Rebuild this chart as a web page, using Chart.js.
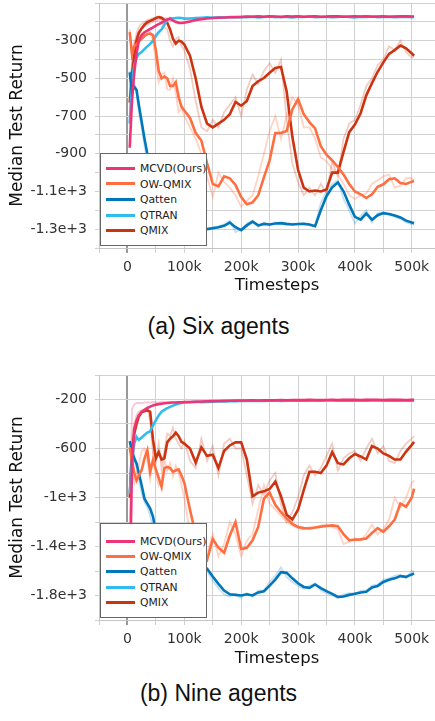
<!DOCTYPE html>
<html>
<head>
<meta charset="utf-8">
<script src="https://cdn.jsdelivr.net/npm/chart.js@4.4.1/dist/chart.umd.min.js"></script>
<style>
html, body { margin: 0; padding: 0; background: #fff; overflow: hidden; width: 435px; height: 721px; }
canvas { position: absolute; left: 0; }
#chartA { top: 0; }
#chartB { top: 372px; }
.legend { position: absolute; left: 100px; width: 105px; background: #fff; border: 1px solid #666;
  font-family: 'DejaVu Sans'; font-size: 10.8px; color: #222; }
.legend .row { position: absolute; left: 5px; height: 15px; line-height: 15px; white-space: nowrap; }
.legend .row i { display: inline-block; width: 29px; height: 3px; vertical-align: middle; margin-right: 5px; position: relative; top: -1px; }
.cap { position: absolute; left: 0; width: 437px; text-align: center; font-family: 'Liberation Sans';
  font-size: 23px; line-height: 26px; color: #111; }
</style>
</head>
<body>
<canvas id="chartA" width="460" height="296"></canvas>
<canvas id="chartB" width="460" height="297"></canvas>
<div class="legend" id="legA" style="top:153px;height:91px"></div>
<div class="legend" id="legB" style="top:523px;height:93px"></div>
<div class="cap" style="top:313px">(a) Six agents</div>
<div class="cap" style="top:680px">(b) Nine agents</div>
<script>
// timesteps, in thousands
const STEPS_K = [4,8,12,16,20,25,30,35,40,45,50,55,60,65,70,75,80,85,90,95,
  100,110,120,130,140,150,160,170,180,190,
  200,210,220,230,240,250,260,270,280,290,
  300,310,320,330,340,350,360,370,380,390,
  400,410,420,430,440,450,460,470,480,490,
  500,504];

const NAMES = ['MCVD(Ours)', 'OW-QMIX', 'Qatten', 'QTRAN', 'QMIX'];
const X_GRID = [-50000,0,50000,100000,150000,200000,250000,300000,350000,400000,450000,500000,550000];
const X_LABELS = [0, 100000, 200000, 300000, 400000, 500000];
const Y_LABELS_A = [-300, -500, -700, -900, -1100, -1300];
const Y_LABELS_B = [-200, -600, -1000, -1400, -1800];

// (a) Six agents - smoothed runs
const A_MCVD = [
  -868,-620,-470,-370,-300,-270,-255,-246,-238,-230,-220,-212,-205,-195,-187,-185,-192,-200,-205,-206,
  -205,-198,-190,-186,-182,-180,-178,-177,-176,-175,
  -174,-172,-173,-171,-173,-170,-172,-174,-171,-172,
  -170,-173,-172,-171,-173,-172,-170,-171,-173,-172,
  -171,-172,-170,-173,-172,-171,-173,-172,-171,-170,
  -172,-172];
const A_OW = [
  -255,-370,-330,-320,-305,-290,-275,-265,-262,-270,-350,-460,-500,-490,-500,-540,-540,-520,-600,-650,
  -670,-710,-790,-830,-950,-1060,-1073,-1020,-1030,-1065,
  -1130,-1168,-1158,-1120,-1025,-935,-790,-790,-779,-665,
  -610,-690,-732,-765,-860,-905,-935,-970,-1010,-1060,
  -1100,-1115,-1135,-1115,-1075,-1062,-1035,-1030,-1055,-1060,
  -1048,-1045];
const A_QATTEN = [
  -468,-575,-545,-560,-640,-730,-820,-900,-980,-1040,-1090,-1130,-1170,-1200,-1220,-1240,-1255,-1265,-1275,-1280,
  -1285,-1292,-1298,-1300,-1300,-1295,-1290,-1282,-1265,-1290,
  -1305,-1280,-1260,-1280,-1272,-1275,-1270,-1268,-1272,-1275,
  -1273,-1272,-1275,-1284,-1200,-1125,-1078,-1052,-1099,-1170,
  -1235,-1250,-1217,-1250,-1226,-1215,-1220,-1228,-1238,-1255,
  -1265,-1268];
const A_QTRAN = [
  -740,-520,-430,-390,-370,-360,-345,-330,-317,-300,-275,-255,-240,-215,-190,-180,-182,-180,-178,-180,
  -183,-182,-180,-178,-176,-178,-176,-177,-175,-176,
  -174,-175,-173,-176,-174,-172,-175,-173,-174,-176,
  -173,-174,-172,-175,-174,-173,-175,-174,-172,-174,
  -176,-173,-174,-172,-175,-174,-173,-175,-174,-173,
  -175,-174];
const A_QMIX = [
  -628,-480,-380,-300,-260,-235,-215,-202,-195,-188,-180,-175,-178,-190,-205,-240,-290,-316,-300,-305,
  -320,-380,-500,-650,-740,-760,-740,-720,-690,-625,
  -645,-620,-540,-515,-498,-470,-445,-440,-570,-810,
  -985,-1080,-1100,-1095,-1100,-1090,-1000,-1000,-890,-785,
  -745,-685,-590,-525,-465,-415,-370,-350,-326,-340,
  -368,-380];

// (a) raw runs (faint lines)
const A_MCVD_RAW = [
  -700,-420,-330,-280,-250,-235,-225,-215,-205,-200,-195,-190,-185,-180,-182,-186,-195,-205,-210,-205,
  -200,-192,-186,-182,-180,-178,-177,-176,-175,-174,
  -173,-171,-173,-170,-174,-169,-172,-175,-170,-172,
  -169,-174,-171,-170,-174,-171,-169,-170,-174,-172,
  -170,-173,-169,-174,-171,-170,-174,-171,-170,-169,
  -173,-171];
const A_OW_RAW = [
  -240,-400,-300,-310,-290,-280,-260,-250,-255,-300,-420,-520,-480,-470,-560,-560,-500,-580,-680,-660,
  -700,-760,-820,-900,-1020,-1130,-1000,-1050,-1080,-1120,
  -1180,-1150,-1120,-1020,-900,-780,-700,-820,-700,-600,
  -640,-760,-760,-820,-920,-940,-980,-1010,-1060,-1120,
  -1140,-1120,-1110,-1060,-1040,-1020,-1010,-1080,-1070,-1030,
  -1030,-1040];
const A_QATTEN_RAW = [
  -460,-600,-520,-580,-680,-760,-860,-940,-1020,-1070,-1110,-1160,-1190,-1220,-1240,-1250,-1265,-1275,-1280,-1290,
  -1290,-1300,-1305,-1300,-1300,-1290,-1285,-1275,-1255,-1315,
  -1300,-1270,-1255,-1290,-1265,-1280,-1265,-1270,-1278,-1270,
  -1275,-1268,-1280,-1280,-1160,-1100,-1060,-1040,-1140,-1200,
  -1270,-1230,-1200,-1265,-1215,-1210,-1225,-1235,-1245,-1265,
  -1275,-1275];
const A_QMIX_RAW = [
  -600,-420,-330,-260,-230,-210,-200,-190,-185,-180,-175,-172,-190,-230,-240,-300,-330,-290,-280,-330,
  -350,-450,-620,-760,-780,-720,-760,-680,-640,-600,
  -700,-560,-480,-530,-460,-420,-470,-400,-720,-950,
  -1050,-1120,-1080,-1120,-1060,-1110,-940,-1020,-820,-740,
  -720,-640,-540,-500,-430,-400,-330,-350,-300,-360,
  -390,-385];

// (b) Nine agents - smoothed runs
const B_MCVD = [
  -1750,-750,-440,-370,-330,-300,-285,-270,-258,-248,-242,-238,-234,-230,-228,-226,-225,-224,-222,-222,
  -221,-220,-218,-216,-214,-213,-212,-211,-210,-209,
  -208,-208,-207,-208,-206,-207,-206,-205,-206,-205,
  -204,-205,-203,-204,-205,-204,-203,-204,-203,-202,
  -203,-204,-203,-202,-203,-204,-203,-202,-203,-204,
  -203,-203];
const B_OW = [
  -590,-700,-800,-860,-820,-777,-680,-614,-790,-695,-770,-840,-913,-760,-750,-760,-790,-780,-770,-820,
  -880,-1100,-1300,-1460,-1510,-1340,-1410,-1450,-1310,-1200,
  -1420,-1410,-1350,-1240,-1010,-960,-1060,-1120,-1170,-1215,
  -1240,-1250,-1253,-1245,-1238,-1232,-1228,-1235,-1300,-1349,
  -1345,-1342,-1335,-1290,-1250,-1280,-1235,-1180,-1050,-1075,
  -1000,-927];
const B_QATTEN = [
  -540,-620,-680,-722,-800,-900,-1010,-1050,-1090,-1158,-1280,-1350,-1400,-1440,-1470,-1490,-1500,-1510,-1520,-1530,
  -1535,-1545,-1555,-1565,-1580,-1645,-1705,-1760,-1790,-1795,
  -1800,-1790,-1800,-1775,-1765,-1720,-1670,-1610,-1615,-1660,
  -1700,-1730,-1738,-1710,-1740,-1765,-1787,-1812,-1808,-1795,
  -1785,-1775,-1770,-1735,-1722,-1690,-1672,-1660,-1642,-1648,
  -1628,-1621];
const B_QTRAN = [
  -970,-700,-560,-505,-530,-510,-490,-470,-460,-410,-370,-330,-300,-285,-270,-260,-250,-240,-232,-228,
  -225,-222,-218,-222,-220,-218,-215,-216,-213,-214,
  -212,-211,-212,-210,-211,-209,-210,-211,-209,-208,
  -210,-209,-208,-210,-209,-208,-207,-209,-208,-210,
  -209,-208,-209,-207,-208,-210,-209,-208,-209,-210,
  -208,-209];
const B_QMIX = [
  -1000,-620,-480,-400,-340,-305,-295,-288,-300,-530,-680,-630,-690,-680,-550,-520,-500,-470,-500,-546,
  -560,-600,-715,-590,-660,-650,-760,-620,-575,-550,
  -550,-690,-990,-960,-950,-930,-870,-990,-1140,-1180,
  -1100,-940,-790,-790,-800,-740,-630,-720,-730,-680,
  -645,-665,-690,-580,-600,-640,-660,-690,-690,-625,
  -570,-546];

// (b) raw runs (faint lines)
const B_MCVD_RAW = [
  -1200,-280,-240,-230,-228,-230,-225,-222,-225,-220,-222,-225,-218,-220,-222,-218,-220,-221,-218,-220,
  -220,-218,-216,-215,-213,-212,-211,-210,-209,-208,
  -208,-207,-206,-208,-205,-206,-205,-204,-206,-204,
  -203,-205,-202,-204,-204,-203,-202,-204,-202,-201,
  -203,-203,-202,-201,-203,-203,-202,-201,-203,-203,
  -202,-202];
const B_OW_RAW = [
  -580,-760,-880,-800,-740,-620,-600,-700,-850,-650,-820,-900,-860,-700,-780,-720,-830,-740,-800,-900,
  -1000,-1300,-1500,-1520,-1460,-1300,-1480,-1380,-1200,-1300,
  -1480,-1350,-1300,-1100,-900,-1050,-1100,-1150,-1200,-1230,
  -1250,-1260,-1240,-1250,-1230,-1220,-1240,-1260,-1380,-1360,
  -1330,-1350,-1300,-1220,-1300,-1260,-1180,-1000,-1080,-1000,
  -880,-860];
const B_QATTEN_RAW = [
  -560,-660,-700,-760,-860,-960,-1040,-1080,-1150,-1250,-1330,-1400,-1430,-1470,-1490,-1500,-1510,-1520,-1530,-1540,
  -1540,-1550,-1560,-1575,-1600,-1680,-1740,-1790,-1810,-1790,
  -1820,-1780,-1810,-1760,-1760,-1690,-1640,-1570,-1650,-1690,
  -1720,-1745,-1720,-1700,-1760,-1780,-1800,-1820,-1790,-1780,
  -1790,-1760,-1760,-1720,-1710,-1670,-1660,-1640,-1630,-1660,
  -1600,-1600];
const B_QMIX_RAW = [
  -900,-520,-400,-330,-300,-290,-280,-260,-380,-640,-720,-560,-760,-620,-480,-500,-430,-520,-560,-600,
  -540,-700,-760,-520,-700,-580,-820,-560,-520,-600,
  -600,-820,-1050,-900,-980,-860,-800,-1060,-1200,-1120,
  -1000,-820,-740,-820,-760,-660,-560,-780,-680,-640,
  -620,-700,-600,-520,-640,-580,-700,-720,-620,-560,
  -520,-500];

const COLORS = ['#ee3377', '#ff6e40', '#0077bb', '#33bbee', '#cc3311'];
const FAINT = ['rgba(238,51,119,0.28)', 'rgba(255,110,64,0.3)', 'rgba(0,119,187,0.22)',
               'rgba(51,187,238,0.28)', 'rgba(204,51,17,0.25)'];
const FONT = "'DejaVu Sans'";

function pts(ys) {
  return ys.map((y, i) => ({ x: STEPS_K[i] * 1000, y: y }));
}

function line(ys, color, w) {
  return { data: pts(ys), borderColor: color, borderWidth: w, pointRadius: 0, tension: 0, fill: false };
}

function fmtY(v) {
  return Math.abs(v) >= 1000 ? (v / 1000) + 'e+3' : String(v);
}

function build(id, smooth, raw, yMin, yMax, yStep, yLabels, xHeight) {
  const datasets = smooth.map((ys, i) => line(ys, COLORS[i], 2.6));
  raw.forEach((ys, i) => { if (ys) datasets.push(line(ys, FAINT[i], 1.8)); });

  new Chart(document.getElementById(id), {
    type: 'line',
    data: { datasets: datasets },
    options: {
      responsive: false,
      animation: false,
      devicePixelRatio: 1,
      layout: { padding: { top: 3, right: 5, left: 0, bottom: 0 } },
      plugins: { legend: { display: false }, tooltip: { enabled: false } },
      scales: {
        x: {
          type: 'linear', min: -50000, max: 576000,
          afterBuildTicks: s => { s.ticks = X_GRID.map(v => ({ value: v })); },
          ticks: {
            autoSkip: false, maxRotation: 0, padding: 6, color: '#333',
            font: { family: FONT, size: 14 },
            callback: v => X_LABELS.includes(v) ? (v === 0 ? '0' : (v / 1000) + 'k') : ''
          },
          grid: {
            color: c => (c.tick && c.tick.value === 0) ? '#999' : '#d2d2d2',
            lineWidth: c => (c.tick && c.tick.value === 0) ? 2 : 1,
            tickLength: 5
          },
          border: { color: '#c4c4c4' },
          title: { display: true, text: 'Timesteps', color: '#111', font: { family: FONT, size: 16.5 }, padding: 0 },
          afterFit: s => { s.height = xHeight; s.paddingLeft = 0; s.paddingRight = 0; }
        },
        y: {
          min: yMin, max: yMax,
          ticks: {
            stepSize: yStep, autoSkip: false, padding: 8, color: '#333',
            font: { family: FONT, size: 14 },
            callback: v => yLabels.includes(v) ? fmtY(v) : ''
          },
          grid: { color: '#d2d2d2', tickLength: 4 },
          border: { color: '#c4c4c4' },
          title: { display: true, text: 'Median Test Return', color: '#111',
                   font: { family: FONT, size: 17 }, padding: { top: 7, bottom: 0 } },
          afterFit: s => { s.width = 99; s.paddingTop = 0; s.paddingBottom = 0; }
        }
      }
    }
  });
}

function legend(id, tops) {
  const box = document.getElementById(id);
  NAMES.forEach((n, i) => {
    const row = document.createElement('div');
    row.className = 'row';
    row.style.top = tops[i] + 'px';
    row.innerHTML = '<i style="background:' + COLORS[i] + '"></i>' + n;
    box.appendChild(row);
  });
}

build('chartA',
  [A_MCVD, A_OW, A_QATTEN, A_QTRAN, A_QMIX],
  [A_MCVD_RAW, A_OW_RAW, A_QATTEN_RAW, null, A_QMIX_RAW],
  -1400, -100, 100, Y_LABELS_A, 48);

build('chartB',
  [B_MCVD, B_OW, B_QATTEN, B_QTRAN, B_QMIX],
  [B_MCVD_RAW, B_OW_RAW, B_QATTEN_RAW, null, B_QMIX_RAW],
  -2000, 0, 200, Y_LABELS_B, 49);

legend('legA', [7, 22.5, 38, 54, 69]);
legend('legB', [10, 25, 40, 56, 71]);
</script>
</body>
</html>
